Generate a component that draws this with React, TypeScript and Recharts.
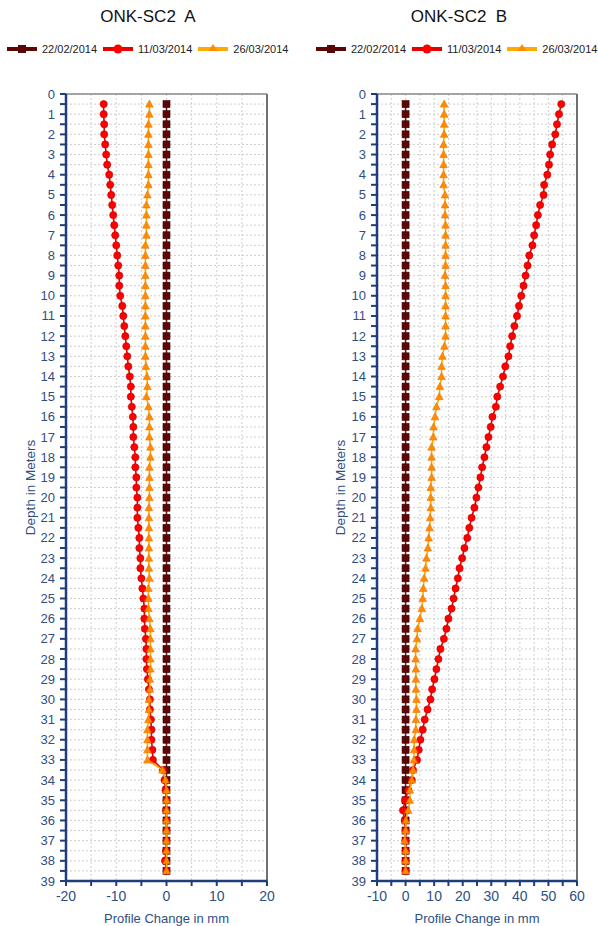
import React from 'react';
import { ScatterChart, Scatter, XAxis, YAxis, CartesianGrid, ReferenceLine } from 'recharts';

const depths = [
  0.5, 1, 1.5, 2, 2.5, 3, 3.5, 4, 4.5, 5, 5.5, 6, 6.5, 7, 7.5, 8, 8.5, 9, 9.5, 10,
  10.5, 11, 11.5, 12, 12.5, 13, 13.5, 14, 14.5, 15, 15.5, 16, 16.5, 17, 17.5, 18, 18.5, 19, 19.5, 20,
  20.5, 21, 21.5, 22, 22.5, 23, 23.5, 24, 24.5, 25, 25.5, 26, 26.5, 27, 27.5, 28, 28.5, 29, 29.5, 30,
  30.5, 31, 31.5, 32, 32.5, 33, 33.5, 34, 34.5, 35, 35.5, 36, 36.5, 37, 37.5, 38, 38.5,
];

const seriesNames = ['22/02/2014', '11/03/2014', '26/03/2014'];

// ONK-SC2 A
const aFeb22 = [
  0, 0, 0, 0, 0, 0, 0, 0, 0, 0, 0, 0, 0, 0, 0, 0, 0, 0, 0, 0,
  0, 0, 0, 0, 0, 0, 0, 0, 0, 0, 0, 0, 0, 0, 0, 0, 0, 0, 0, 0,
  0, 0, 0, 0, 0, 0, 0, 0, 0, 0, 0, 0, 0, 0, 0, 0, 0, 0, 0, 0,
  0, 0, 0, 0, 0, 0, 0, 0, 0, 0, 0, 0, 0, 0, 0, 0, 0,
];
const aMar11 = [
  -12.5, -12.5, -12.4, -12.4, -12.2, -12.0, -11.8, -11.4, -11.2, -11.0, -10.8, -10.6, -10.4, -10.2, -10.0, -9.8, -9.6, -9.4, -9.4, -9.2,
  -8.8, -8.6, -8.4, -8.2, -8.0, -7.8, -7.6, -7.3, -7.1, -7.1, -6.9, -6.7, -6.6, -6.6, -6.4, -6.2, -6.2, -6.0, -6.0, -5.8,
  -5.8, -5.8, -5.6, -5.4, -5.4, -5.2, -5.2, -5.0, -4.8, -4.6, -4.4, -4.4, -4.3, -4.1, -4.0, -4.0, -3.9, -3.7, -3.5, -3.3,
  -3.3, -3.1, -3.0, -3.0, -2.8, -2.7, -0.7, -0.4, -0.2, 0, -0.1, 0, 0, 0, -0.1, -0.3, 0,
];
const aMar26 = [
  -3.4, -3.4, -3.6, -3.6, -3.6, -3.6, -3.6, -3.6, -3.6, -3.8, -4.0, -4.0, -4.0, -4.0, -4.2, -4.2, -4.2, -4.2, -4.2, -4.2,
  -4.2, -4.2, -4.2, -4.2, -4.2, -4.2, -4.1, -3.9, -3.8, -4.0, -3.6, -3.4, -3.4, -3.4, -3.2, -3.2, -3.4, -3.4, -3.4, -3.4,
  -3.5, -3.5, -3.5, -3.5, -3.5, -3.5, -3.5, -3.4, -3.6, -3.6, -3.6, -3.4, -3.2, -3.2, -3.2, -3.2, -3.2, -3.3, -3.3, -3.5,
  -3.5, -3.6, -3.8, -3.8, -3.8, -3.8, -0.8, -0.2, 0, 0, 0, 0, 0, 0, 0, 0, 0,
];

// ONK-SC2 B
const bFeb22 = [
  0, 0, 0, 0, 0, 0, 0, 0, 0, 0, 0, 0, 0, 0, 0, 0, 0, 0, 0, 0,
  0, 0, 0, 0, 0, 0, 0, 0, 0, 0, 0, 0, 0, 0, 0, 0, 0, 0, 0, 0,
  0, 0, 0, 0, 0, 0, 0, 0, 0, 0, 0, 0, 0, 0, 0, 0, 0, 0, 0, 0,
  0, 0, 0, 0, 0, 0, 0, 0, 0, 0, 0, 0, 0, 0, 0, 0, 0,
];
const bMar11 = [
  54.5, 53.7, 53.0, 52.4, 51.3, 50.6, 50.2, 49.6, 48.5, 48.3, 47.1, 46.3, 45.7, 45.0, 44.4, 43.3, 42.7, 42.0, 41.3, 40.5,
  39.7, 39.0, 38.1, 37.3, 36.6, 36.0, 34.9, 34.1, 33.1, 32.1, 31.6, 30.4, 29.8, 29.0, 28.3, 27.6, 26.8, 26.2, 25.5, 24.8,
  24.1, 23.1, 22.3, 21.6, 20.6, 19.8, 18.9, 18.3, 17.5, 16.8, 16.1, 15.0, 14.3, 13.4, 12.2, 11.5, 10.8, 10.1, 9.3, 8.7,
  7.7, 6.7, 6.0, 5.2, 4.6, 4.0, 2.6, 2.2, 1.0, -0.2, -0.9, -0.3, 0, 0, 0, 0, 0,
];
const bMar26 = [
  13.5, 13.5, 13.5, 13.5, 13.3, 13.3, 13.3, 13.3, 13.3, 13.8, 13.8, 13.8, 14.0, 14.0, 14.0, 14.0, 14.0, 13.8, 14.0, 14.0,
  14.0, 14.0, 14.0, 14.0, 13.6, 12.9, 12.6, 12.6, 12.0, 11.8, 10.8, 10.3, 9.8, 9.7, 9.1, 9.1, 9.1, 9.1, 8.8, 8.8,
  8.8, 8.6, 8.4, 8.1, 7.8, 7.3, 7.0, 6.5, 6.2, 6.0, 5.7, 5.0, 4.2, 4.0, 3.5, 3.5, 3.6, 3.6, 3.6, 3.8,
  3.8, 3.6, 3.6, 3.0, 3.0, 2.9, 2.6, 2.2, 1.5, 1.5, 0.9, 0.1, 0, -0.3, 0, 0, 0,
];

const depthTicks = [
  0, 0.5, 1, 1.5, 2, 2.5, 3, 3.5, 4, 4.5, 5, 5.5, 6, 6.5, 7, 7.5, 8, 8.5, 9, 9.5, 10,
  10.5, 11, 11.5, 12, 12.5, 13, 13.5, 14, 14.5, 15, 15.5, 16, 16.5, 17, 17.5, 18, 18.5, 19, 19.5, 20,
  20.5, 21, 21.5, 22, 22.5, 23, 23.5, 24, 24.5, 25, 25.5, 26, 26.5, 27, 27.5, 28, 28.5, 29, 29.5, 30,
  30.5, 31, 31.5, 32, 32.5, 33, 33.5, 34, 34.5, 35, 35.5, 36, 36.5, 37, 37.5, 38, 38.5, 39,
];
const aXTicks = [-20, -15, -10, -5, 0, 5, 10, 15, 20];
const bXTicks = [-10, -5, 0, 5, 10, 15, 20, 25, 30, 35, 40, 45, 50, 55, 60];

const FONT = '"Liberation Sans", Arial, sans-serif';
const AXIS = '#1f3d7a';
const LABEL = '#2f4f82';
const COLORS = ['#5e0606', '#ff0000', '#ff8c00'];
const LINES = ['#6e1c1c', '#e80000', '#ffaa00'];

const pair = (vals: number[]) => depths.map((d, i) => ({ x: vals[i], depth: d }));

const Square = (p: any) => (
  <rect x={p.cx - 3.5} y={p.cy - 3.5} width={7} height={7} fill={COLORS[0]} stroke="#3a0000" strokeWidth={0.6} />
);
const Dot = (p: any) => <circle cx={p.cx} cy={p.cy} r={3.6} fill={COLORS[1]} stroke="#c00000" strokeWidth={0.6} />;
const Tri = (p: any) => (
  <polygon
    points={`${p.cx},${p.cy - 4} ${p.cx - 3.8},${p.cy + 3} ${p.cx + 3.8},${p.cy + 3}`}
    fill={COLORS[2]}
    stroke="#f07000"
    strokeWidth={0.6}
  />
);
const shapes = [Square, Dot, Tri];

function LegendRow({ left }: { left: number }) {
  return (
    <div style={{ position: 'absolute', left, top: 43, display: 'flex', alignItems: 'center', fontFamily: FONT, fontSize: 11, color: '#222', whiteSpace: 'nowrap' }}>
      {seriesNames.map((n, i) => (
        <div key={n} style={{ display: 'flex', alignItems: 'center', marginRight: 6 }}>
          <svg width={30} height={12} style={{ marginRight: 5 }}>
            <line x1={0} y1={6} x2={30} y2={6} stroke={i === 0 ? COLORS[0] : LINES[i]} strokeWidth={4} />
            {i === 0 && <rect x={11} y={2} width={8} height={8} fill={COLORS[0]} />}
            {i === 1 && <circle cx={15} cy={6} r={4.5} fill={COLORS[1]} />}
            {i === 2 && <polygon points="15,1 10.5,8 19.5,8" fill={COLORS[2]} />}
          </svg>
          <span>{n}</span>
        </div>
      ))}
    </div>
  );
}

function YTick(props: any) {
  const { x, y, payload } = props;
  const v = payload.value;
  if (!Number.isInteger(v)) return null;
  return (
    <text x={x} y={y} dy={4.5} textAnchor="end" fill={LABEL} fontSize={13} fontFamily={FONT}>
      {v}
    </text>
  );
}

function Profile({
  left, width, yAxisWidth, right, domain, xTicks, series, labelDx,
}: {
  left: number; width: number; yAxisWidth: number; right: number; domain: [number, number]; xTicks: number[]; series: number[][]; labelDx: number;
}) {
  return (
    <div style={{ position: 'absolute', left, top: 0 }}>
      <ScatterChart width={width} height={926} margin={{ top: 94, right, bottom: 0, left: 0 }}>
        <CartesianGrid stroke="#cfcfcf" strokeDasharray="2 2" />
        <XAxis
          type="number"
          dataKey="x"
          domain={domain}
          ticks={xTicks}
          interval={0}
          height={45}
          axisLine={{ stroke: AXIS, strokeWidth: 2.5 }}
          tickLine={{ stroke: AXIS, strokeWidth: 2 }}
          tickSize={5}
          tickMargin={5}
          tick={{ fill: LABEL, fontSize: 14, fontFamily: FONT }}
          tickFormatter={(v: number) => (v % 10 === 0 ? String(v) : '')}
          label={{ value: 'Profile Change in mm', position: 'insideBottom', offset: 3, fill: LABEL, fontSize: 13, fontFamily: FONT }}
        />
        <YAxis
          type="number"
          dataKey="depth"
          reversed
          domain={[0, 39]}
          ticks={depthTicks}
          interval={0}
          width={yAxisWidth}
          axisLine={{ stroke: AXIS, strokeWidth: 2.5 }}
          tickLine={{ stroke: AXIS, strokeWidth: 2 }}
          tickSize={6}
          tickMargin={5}
          tick={<YTick />}
          label={{ value: 'Depth in Meters', angle: -90, position: 'center', dx: labelDx, fill: LABEL, fontSize: 13.5, fontFamily: FONT }}
        />
        <ReferenceLine y={0} stroke="#8a8a8a" strokeWidth={1.5} />
        <ReferenceLine x={domain[1]} stroke="#707070" strokeWidth={2} />
        {series.map((vals, i) => (
          <Scatter
            key={seriesNames[i]}
            name={seriesNames[i]}
            data={pair(vals)}
            line={{ stroke: LINES[i], strokeWidth: 1.6 }}
            shape={shapes[i]}
            isAnimationActive={false}
          />
        ))}
      </ScatterChart>
    </div>
  );
}

export default function App() {
  return (
    <div style={{ position: 'absolute', left: 0, top: 0, width: 598, height: 926, background: '#fff', overflow: 'hidden' }}>
      <div style={{ position: 'absolute', left: 48, width: 200, top: 7, textAlign: 'center', fontFamily: FONT, fontSize: 17, color: '#111' }}>
        ONK-SC2&nbsp; A
      </div>
      <div style={{ position: 'absolute', left: 359, width: 200, top: 7, textAlign: 'center', fontFamily: FONT, fontSize: 17, color: '#111' }}>
        ONK-SC2&nbsp; B
      </div>
      <LegendRow left={7} />
      <LegendRow left={316} />
      <Profile left={0} width={300} yAxisWidth={66} right={33} domain={[-20, 20]} xTicks={aXTicks} series={[aFeb22, aMar11, aMar26]} labelDx={-3} />
      <Profile left={300} width={298} yAxisWidth={77} right={21} domain={[-10, 60]} xTicks={bXTicks} series={[bFeb22, bMar11, bMar26]} labelDx={2} />
    </div>
  );
}
